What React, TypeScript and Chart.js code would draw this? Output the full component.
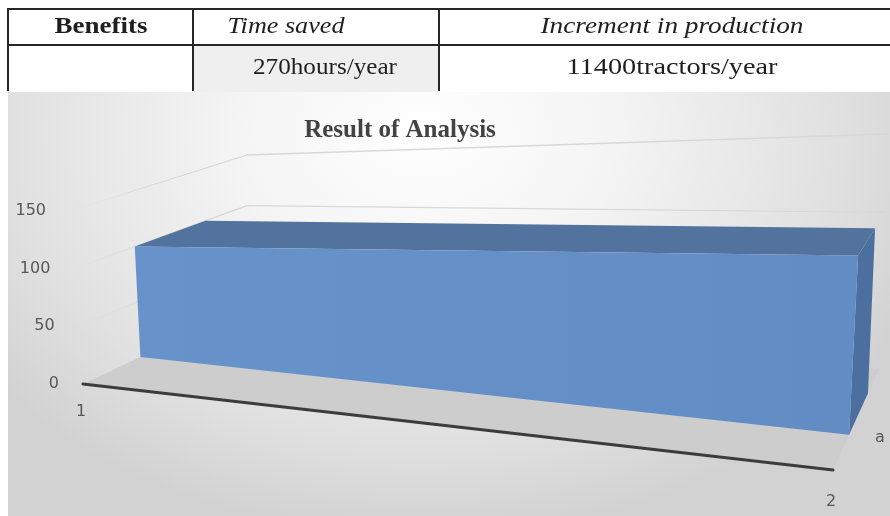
import React, { useEffect, useRef } from 'react';
import { Chart, registerables } from 'chart.js';

Chart.register(...registerables);

// ---- data ----
const categories = ['1', '2'];
const seriesName = 'a';
const seriesValues = [100, 100];
const yTicks = [0, 50, 100, 150];
const chartTitle = 'Result of Analysis';
const tableHeader = ['Benefits', 'Time saved', 'Increment in production'];
const tableRow = ['', '270hours/year', '11400tractors/year'];

// ---- 3D frame (canvas pixel coords of the plot box corners) ----
// F = floor (value 0), T = top (value max); first index X (0 left,1 right), second Z (0 front,1 back)
const FRAME = {
  F00: [75, 292], T00: [62, 119], F01: [239, 215], T01: [239, 63],
  F10: [825, 378], T10: [841, 91], F11: [871, 277], T11: [880, 42],
};
const DEPTH_FRONT = 0.35;
const DEPTH_BACK = 0.76;
const SERIF = '"Liberation Serif"';

type P = [number, number];
const lerp = (a: number[], b: number[], t: number): P => [a[0] + (b[0] - a[0]) * t, a[1] + (b[1] - a[1]) * t];
function proj(x: number, y: number, z: number): P {
  const f0 = lerp(FRAME.F00, FRAME.F01, z);
  const t0 = lerp(FRAME.T00, FRAME.T01, z);
  const f1 = lerp(FRAME.F10, FRAME.F11, z);
  const t1 = lerp(FRAME.T10, FRAME.T11, z);
  const l = lerp(f0, t0, y);
  const r = lerp(f1, t1, y);
  return lerp(l, r, x);
}

function poly(ctx: CanvasRenderingContext2D, pts: P[], fill?: any) {
  ctx.beginPath();
  pts.forEach((p, i) => (i === 0 ? ctx.moveTo(p[0], p[1]) : ctx.lineTo(p[0], p[1])));
  ctx.closePath();
  if (fill) { ctx.fillStyle = fill; ctx.fill(); }
}

const area3d = {
  id: 'area3d',
  beforeDatasetsDraw(chart: any) {
    const ctx: CanvasRenderingContext2D = chart.ctx;
    const area = chart.chartArea;
    const xs = chart.scales.x;
    const ys = chart.scales.y;
    const fx = (i: number) => (xs.getPixelForValue(i) - area.left) / (area.right - area.left);
    const fy = (v: number) => (area.bottom - ys.getPixelForValue(v)) / (area.bottom - area.top);
    ctx.save();

    // gridlines on side wall (fading toward the front) and back wall
    ctx.lineWidth = 1.3;
    yTicks.forEach((t) => {
      if (t === 0) return;
      const y = fy(t);
      const a = proj(0, y, 0), b = proj(0, y, 1), c = proj(1, y, 1);
      const g = ctx.createLinearGradient(a[0], a[1], b[0], b[1]);
      g.addColorStop(0, 'rgba(214,214,214,0)');
      g.addColorStop(0.25, 'rgba(214,214,214,0.3)');
      g.addColorStop(0.5, 'rgba(214,214,214,1)');
      g.addColorStop(1, 'rgba(214,214,214,1)');
      ctx.strokeStyle = g;
      ctx.beginPath();
      ctx.moveTo(a[0], a[1]); ctx.lineTo(b[0], b[1]);
      ctx.stroke();
      ctx.strokeStyle = '#d8d8d8';
      ctx.beginPath();
      ctx.moveTo(b[0], b[1]); ctx.lineTo(c[0], c[1]);
      ctx.stroke();
    });

    // floor
    poly(ctx, [proj(0, 0, 0), proj(1, 0, 0), proj(1, 0, 1), proj(0, 0, 1)], '#cdcdcd');

    // 3D area series
    const vals = chart.data.datasets[0].data as number[];
    const n = vals.length;
    const zf = DEPTH_FRONT, zb = DEPTH_BACK;
    const xl = fx(n - 1), yl = fy(vals[n - 1]);
    poly(ctx, [proj(xl, 0, zf), proj(xl, yl, zf), proj(xl, yl, zb), proj(xl, 0, zb)], '#4b6f9f');
    for (let i = 0; i < n - 1; i++) {
      const x0 = fx(i), x1 = fx(i + 1), y0 = fy(vals[i]), y1 = fy(vals[i + 1]);
      poly(ctx, [proj(x0, y0, zf), proj(x1, y1, zf), proj(x1, y1, zb), proj(x0, y0, zb)], '#51739e');
    }
    const front: P[] = [];
    for (let i = 0; i < n; i++) front.push(proj(fx(i), fy(vals[i]), zf));
    for (let i = n - 1; i >= 0; i--) front.push(proj(fx(i), 0, zf));
    const g = ctx.createLinearGradient(front[0][0], 0, front[n - 1][0], 0);
    g.addColorStop(0, '#6893ca');
    g.addColorStop(1, '#628dc4');
    poly(ctx, front, g);

    // category axis line
    const a0 = proj(0, 0, 0), a1 = proj(1, 0, 0);
    ctx.beginPath();
    ctx.moveTo(a0[0], a0[1]); ctx.lineTo(a1[0], a1[1]);
    ctx.strokeStyle = '#3c3c3c'; ctx.lineWidth = 3; ctx.lineCap = 'round';
    ctx.stroke();

    // labels
    ctx.fillStyle = '#575757';
    ctx.font = '16px "DejaVu Sans"';
    ctx.textBaseline = 'middle';
    ctx.textAlign = 'right';
    yTicks.forEach((t) => {
      const p = proj(0, fy(t), 0);
      ctx.fillText(String(t), p[0] - 24, p[1]);
    });
    ctx.textAlign = 'center';
    chart.data.labels.forEach((lab: string, i: number) => {
      const p = proj(fx(i), 0, 0);
      ctx.fillText(lab, p[0] - 2, p[1] + 28 + i * 4);
    });
    const s = proj(1, 0, 0.5);
    ctx.fillText(chart.data.datasets[0].label, s[0] + 24, s[1] + 18);
    ctx.restore();
  },
};

// table layout: column borders and text centres / widths (pixels)
const COL_LINES = [7, 192, 438];
const COL_CENTERS = [101, 286, 672];
const ROW2_CENTERS = [101, 325, 672];
const HEADER_W = [93, 117, 263];
const ROW2_W = [0, 144, 211];

function TableCanvas() {
  const ref = useRef<HTMLCanvasElement>(null);
  useEffect(() => {
    const cv = ref.current;
    if (!cv) return;
    const ctx = cv.getContext('2d')!;
    ctx.clearRect(0, 0, cv.width, cv.height);
    ctx.fillStyle = '#efefef';
    ctx.fillRect(194, 46, 244, 46);
    ctx.fillStyle = '#262626';
    ctx.fillRect(7, 8, 883, 2);
    ctx.fillRect(7, 44, 883, 2);
    COL_LINES.forEach((x) => ctx.fillRect(x, 8, 2, 83));
    const draw = (text: string, cx: number, cy: number, w: number, font: string) => {
      if (!text) return;
      ctx.save();
      ctx.font = font;
      ctx.textBaseline = 'middle';
      ctx.textAlign = 'center';
      const mw = ctx.measureText(text).width;
      ctx.translate(cx, cy);
      ctx.scale(w / mw, 1);
      ctx.fillStyle = '#1e1e1e';
      ctx.fillText(text, 0, 0);
      ctx.restore();
    };
    const fonts = ['bold 23px ' + SERIF, 'italic 23px ' + SERIF, 'italic 23px ' + SERIF];
    tableHeader.forEach((t, i) => draw(t, COL_CENTERS[i], 27, HEADER_W[i], fonts[i]));
    tableRow.forEach((t, i) => draw(t, ROW2_CENTERS[i], 68, ROW2_W[i], '23px ' + SERIF));
  }, []);
  return (
    <canvas ref={ref} width={890} height={92}
      style={{ position: 'absolute', left: 0, top: 0, width: 890, height: 92, display: 'block' }} />
  );
}

export default function App() {
  const canvasRef = useRef<HTMLCanvasElement>(null);
  useEffect(() => {
    if (!canvasRef.current) return;
    const chart = new Chart(canvasRef.current, {
      type: 'line',
      data: {
        labels: categories,
        datasets: [{ label: seriesName, data: seriesValues, showLine: false, pointRadius: 0 }],
      },
      plugins: [area3d],
      options: {
        animation: false,
        responsive: false,
        maintainAspectRatio: false,
        layout: { padding: { right: 98 } },
        scales: {
          x: { display: false, offset: false },
          y: { display: false, min: 0, max: 150, ticks: { stepSize: 50 } },
        },
        plugins: {
          legend: { display: false },
          tooltip: { enabled: false },
          title: {
            display: true,
            text: chartTitle,
            color: '#424242',
            font: { family: SERIF, size: 25, weight: 'bold' },
            padding: { top: 24, bottom: 10 },
          },
        },
      },
    });
    return () => chart.destroy();
  }, []);

  return (
    <div style={{ position: 'absolute', left: 0, top: 0, width: 890, height: 516, overflow: 'hidden', background: '#ffffff' }}>
      <TableCanvas />
      <div
        style={{
          position: 'absolute', left: 8, top: 92, width: 882, height: 424,
          background: 'radial-gradient(ellipse 62% 95% at 47% 10%, #ffffff 0%, #f4f4f4 35%, #e1e1e1 75%, #d2d2d2 100%)',
        }}
      >
        <canvas ref={canvasRef} width={882} height={424} style={{ display: 'block', width: 882, height: 424 }} />
      </div>
    </div>
  );
}
